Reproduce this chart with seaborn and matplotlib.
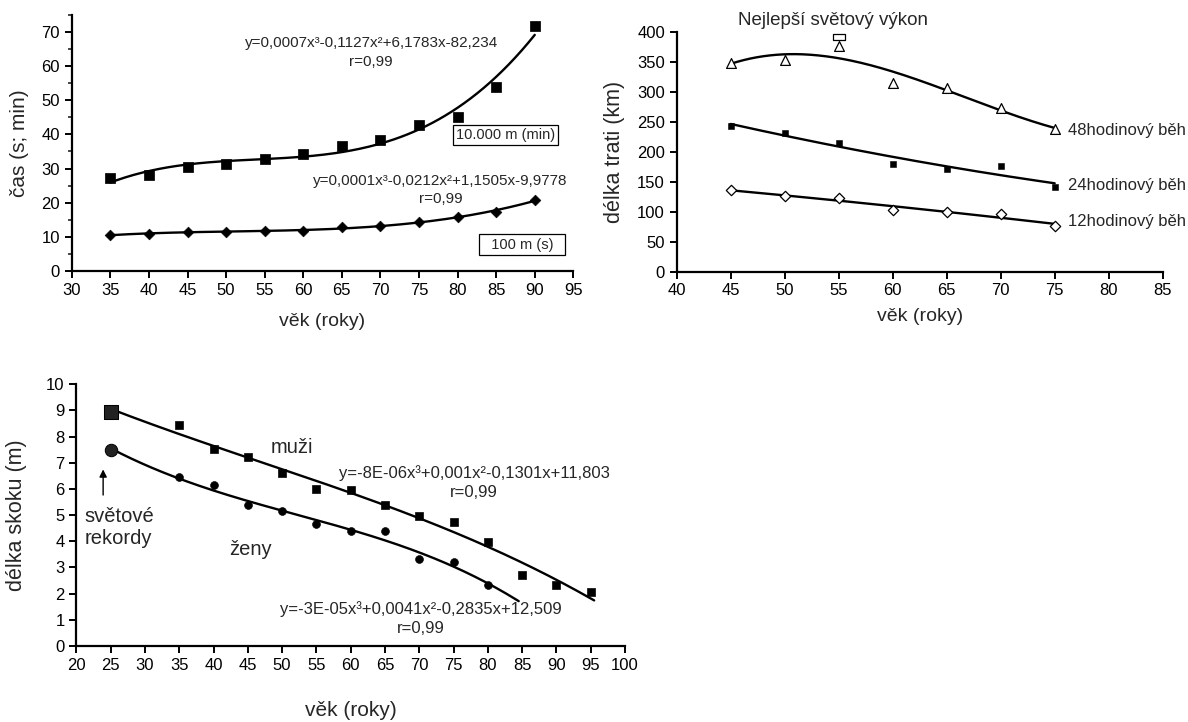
import numpy as np
import matplotlib
matplotlib.use("Agg")
import matplotlib.pyplot as plt
import seaborn as sns

# ---------------- data ----------------
age_run = [35, 40, 45, 50, 55, 60, 65, 70, 75, 80, 85, 90]
time_10000m = [27.3, 28.1, 30.3, 31.2, 32.7, 34.1, 36.6, 38.3, 42.6, 45.1, 54.0, 71.7]
time_100m = [10.6, 10.9, 11.3, 11.4, 11.8, 11.8, 12.8, 13.2, 14.3, 15.7, 17.2, 20.9]

age_ultra = [45, 50, 55, 60, 65, 70, 75]
km_48h = [348.7, 353.0, 377.0, 315.6, 306.8, 272.6, 238.3]
km_24h = [243.9, 231.7, 215.0, 179.3, 171.0, 176.6, 141.2]
km_12h = [136.3, 125.8, 123.6, 102.6, 99.3, 96.6, 76.7]
best_age = [55]
best_km = [391.0]

age_men = [25, 35, 40, 45, 50, 55, 60, 65, 70, 75, 80, 85, 90, 95]
jump_men = [8.95, 8.45, 7.53, 7.2, 6.61, 6.0, 5.97, 5.37, 4.96, 4.73, 3.96, 2.71, 2.31, 2.06]
age_women = [25, 35, 40, 45, 50, 55, 60, 65, 70, 75, 80]
jump_women = [7.5, 6.44, 6.14, 5.37, 5.17, 4.64, 4.38, 4.38, 3.33, 3.2, 2.31]

eq_10000 = "y=0,0007x³-0,1127x²+6,1783x-82,234"
eq_100 = "y=0,0001x³-0,0212x²+1,1505x-9,9778"
eq_men = "y=-8E-06x³+0,001x²-0,1301x+11,803"
eq_women = "y=-3E-05x³+0,0041x²-0,2835x+12,509"
r_text = "r=0,99"
xlabel = "věk (roky)"

# ---------------- style ----------------
sns.set_theme(style="ticks")
plt.rcParams["font.family"] = ["Liberation Sans", "DejaVu Sans"]
plt.rcParams["axes.linewidth"] = 1.6
plt.rcParams["xtick.major.width"] = 1.4
plt.rcParams["ytick.major.width"] = 1.4
plt.rcParams["xtick.major.size"] = 5
plt.rcParams["ytick.major.size"] = 5
plt.rcParams["xtick.labelsize"] = 12
plt.rcParams["ytick.labelsize"] = 12

fig = plt.figure(figsize=(11.88, 7.22), dpi=100)
fig.patch.set_facecolor("white")

LW = 1.7


def fit_line(ax, x, y, order, x0, x1):
    coef = np.polyfit(x, y, order)
    xs = np.linspace(x0, x1, 200)
    sns.lineplot(x=xs, y=np.polyval(coef, xs), ax=ax, color="black", lw=LW, zorder=2)


def style_axes(ax):
    sns.despine(ax=ax)
    ax.tick_params(axis="both", colors="black", direction="out")
    for s in ("left", "bottom"):
        ax.spines[s].set_color("black")
    ax.set_facecolor("white")
    ax.grid(False)


# ---------------- top-left ----------------
ax1 = fig.add_axes([0.0604, 0.6247, 0.4222, 0.3548])
fit_line(ax1, age_run, time_10000m, 3, 35, 90)
fit_line(ax1, age_run, time_100m, 3, 35, 90)
sns.scatterplot(x=age_run, y=time_10000m, ax=ax1, marker="s", color="black",
                s=42, edgecolor="black", zorder=3)
sns.scatterplot(x=age_run, y=time_100m, ax=ax1, marker="D", color="black",
                s=30, edgecolor="black", zorder=3)
ax1.set_xlim(30, 95)
ax1.set_ylim(0, 75)
ax1.set_xticks(np.arange(30, 96, 5))
ax1.set_yticks(np.arange(0, 71, 10))
ax1.set_yticks(np.arange(5, 76, 10), minor=True)
ax1.tick_params(axis="y", which="minor", length=3, width=1.2)
style_axes(ax1)
ax1.set_xlabel(xlabel, fontsize=14, labelpad=11)
ax1.set_ylabel("čas (s; min)", fontsize=15, labelpad=9)
ax1.text(68.8, 66.6, eq_10000, ha="center", va="center", fontsize=11)
ax1.text(68.8, 61.3, r_text, ha="center", va="center", fontsize=11)
ax1.text(77.8, 26.4, eq_100, ha="center", va="center", fontsize=11)
ax1.text(77.8, 21.0, r_text, ha="center", va="center", fontsize=11)
ax1.text(86.2, 39.9, "10.000 m (min)", ha="center", va="center", fontsize=10.5,
         bbox=dict(boxstyle="square,pad=0.2", fc="white", ec="black", lw=0.9))
ax1.text(88.4, 7.7, "  100 m (s)  ", ha="center", va="center", fontsize=10.5,
         bbox=dict(boxstyle="square,pad=0.25", fc="white", ec="black", lw=0.9))

# ---------------- top-right ----------------
ax2 = fig.add_axes([0.5696, 0.6237, 0.4091, 0.3319])
fit_line(ax2, age_ultra, km_48h, 3, 45, 75)
fit_line(ax2, age_ultra, km_24h, 2, 45, 75)
fit_line(ax2, age_ultra, km_12h, 2, 45, 75)
sns.scatterplot(x=age_ultra, y=km_48h, ax=ax2, marker="^", facecolor="white",
                edgecolor="black", linewidth=0.9, s=50, zorder=3)
sns.scatterplot(x=age_ultra, y=km_24h, ax=ax2, marker="s", color="black",
                edgecolor="black", s=25, zorder=3)
sns.scatterplot(x=age_ultra, y=km_12h, ax=ax2, marker="D", facecolor="white",
                edgecolor="black", linewidth=0.9, s=28, zorder=3)
rect_marker = [(-1.5, -0.7), (1.5, -0.7), (1.5, 0.7), (-1.5, 0.7), (-1.5, -0.7)]
sns.scatterplot(x=best_age, y=best_km, ax=ax2, marker=rect_marker, facecolor="white",
                edgecolor="black", linewidth=0.9, s=75, zorder=3, clip_on=False)
ax2.set_xlim(40, 85)
ax2.set_ylim(0, 400)
ax2.set_xticks(np.arange(40, 86, 5))
ax2.set_yticks(np.arange(0, 401, 50))
style_axes(ax2)
ax2.set_xlabel(xlabel, fontsize=14, labelpad=7)
ax2.set_ylabel("délka trati (km)", fontsize=15.5, labelpad=9)
ax2.text(76.2, 235.6, "48hodinový běh", ha="left", va="center", fontsize=12)
ax2.text(76.2, 144.6, "24hodinový běh", ha="left", va="center", fontsize=12)
ax2.text(76.2, 83.9, "12hodinový běh", ha="left", va="center", fontsize=12)
ax2.text(45.7, 420, "Nejlepší světový výkon", ha="left", va="center", fontsize=13.5,
         clip_on=False)

# ---------------- bottom ----------------
ax3 = fig.add_axes([0.0643, 0.1053, 0.4618, 0.3626])
fit_line(ax3, age_men, jump_men, 3, 25, 95.5)
fit_line(ax3, age_women, jump_women, 3, 25, 84.5)
sns.scatterplot(x=age_men[1:], y=jump_men[1:], ax=ax3, marker="s", color="black",
                edgecolor="black", s=36, zorder=3)
sns.scatterplot(x=age_men[:1], y=jump_men[:1], ax=ax3, marker="s", color="#222222",
                edgecolor="black", s=90, zorder=3)
sns.scatterplot(x=age_women[1:], y=jump_women[1:], ax=ax3, marker="o", color="black",
                edgecolor="black", s=32, zorder=3)
sns.scatterplot(x=age_women[:1], y=jump_women[:1], ax=ax3, marker="o", color="#222222",
                edgecolor="black", s=80, zorder=3)
ax3.set_xlim(20, 100)
ax3.set_ylim(0, 10)
ax3.set_xticks(np.arange(20, 101, 5))
ax3.set_yticks(np.arange(0, 11, 1))
style_axes(ax3)
ax3.set_xlabel(xlabel, fontsize=15, labelpad=20)
ax3.set_ylabel("délka skoku (m)", fontsize=15.5, labelpad=14)
ax3.text(51.5, 7.57, "muži", ha="center", va="center", fontsize=14.5)
ax3.text(45.4, 3.69, "ženy", ha="center", va="center", fontsize=14.5)
ax3.text(78.0, 6.61, eq_men, ha="center", va="center", fontsize=12)
ax3.text(78.0, 5.85, r_text, ha="center", va="center", fontsize=12)
ax3.text(70.2, 1.40, eq_women, ha="center", va="center", fontsize=12)
ax3.text(70.2, 0.67, r_text, ha="center", va="center", fontsize=12)
ax3.text(21.15, 4.54, "světové\nrekordy", ha="left", va="center", fontsize=14.5,
         linespacing=1.2)
ax3.annotate("", xy=(23.9, 6.85), xytext=(23.9, 5.66),
             arrowprops=dict(arrowstyle="-|>", color="black", lw=1.0, mutation_scale=11))

fig.savefig("out.png", dpi=100, facecolor="white")
